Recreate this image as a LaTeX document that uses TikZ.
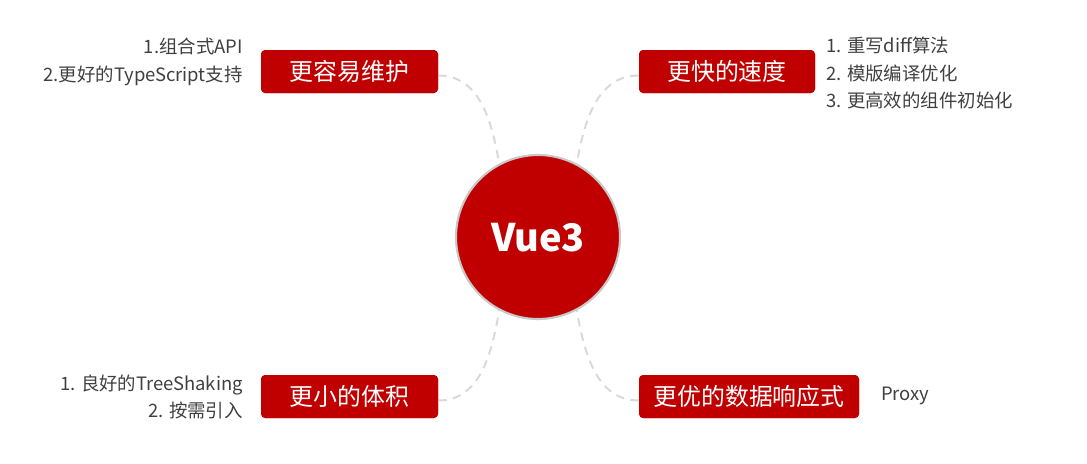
\documentclass[tikz,border=0pt]{standalone}
\usepackage{fontspec}
\usepackage{xcolor}
\setmainfont{Noto Sans CJK SC}
\definecolor{vuered}{HTML}{C00000}
\definecolor{ringgray}{HTML}{C8C8C8}
\definecolor{dashgray}{HTML}{D9D9D9}
\definecolor{notegray}{HTML}{404040}

\tikzset{
  topic/.style={fill=vuered, rounded corners=3pt, text=white, minimum height=43*0.025cm,
    inner sep=0pt, font=\fontsize{17}{20}\selectfont},
  note/.style={text=notegray, inner sep=0pt, font=\fontsize{13.1}{19.6}\selectfont},
  link/.style={dashgray, line width=1.4pt, dash pattern=on 6pt off 4.5pt},
}

\begin{document}
\begin{tikzpicture}[x=0.025cm, y=-0.025cm]
  \useasboundingbox (0,0) rectangle (1087,463);

  %--- links (drawn first, under the circle) ---
  \node[circle, minimum size=164*0.025cm, inner sep=0pt] (vue) at (538,237) {};
  \node[topic, minimum width=177*0.025cm] (easy) at (349.5,71.5) {更容易维护};
  \node[topic, minimum width=176*0.025cm] (fast) at (727,71.5) {更快的速度};
  \node[topic, minimum width=177*0.025cm] (small) at (349.5,396.5) {更小的体积};
  \node[topic, minimum width=220*0.025cm] (react) at (749,396.5) {更优的数据响应式};

  \draw[link] ([yshift=-0.1cm]easy.east) to[out=0, in=100] (vue.118);
  \draw[link] ([yshift=-0.1cm]fast.west) to[out=180, in=80] (vue.62);
  \draw[link] ([yshift=-0.1cm]small.east) to[out=0, in=-100] (vue.-118);
  \draw[link] ([yshift=-0.1cm]react.west) to[out=180, in=-80] (vue.-62);

  %--- centre ---
  \draw[fill=vuered, draw=ringgray, line width=1.5pt] (vue.center) circle (82);
  \node[text=white, font=\fontsize{27}{32}\selectfont\bfseries] (vuetxt) at (538,238) {Vue3};

  %--- topics again on top of the links ---
  \node[topic, minimum width=177*0.025cm] at (easy) {更容易维护};
  \node[topic, minimum width=176*0.025cm] at (fast) {更快的速度};
  \node[topic, minimum width=177*0.025cm] at (small) {更小的体积};
  \node[topic, minimum width=220*0.025cm] at (react) {更优的数据响应式};

  %--- notes ---
  \node[note, align=right, anchor=east] (easynote) at (243,62) {1.组合式API\\2.更好的TypeScript支持};
  \node[note, align=left, anchor=west] (fastnote) at (826,73) {1. 重写diff算法\\2. 模版编译优化\\3. 更高效的组件初始化};
  \node[note, align=right, anchor=east] (smallnote) at (243,397) {1. 良好的TreeShaking\\2. 按需引入};
  \node[note, anchor=west] (reactnote) at (881,396) {Proxy};

\end{tikzpicture}
\end{document}
